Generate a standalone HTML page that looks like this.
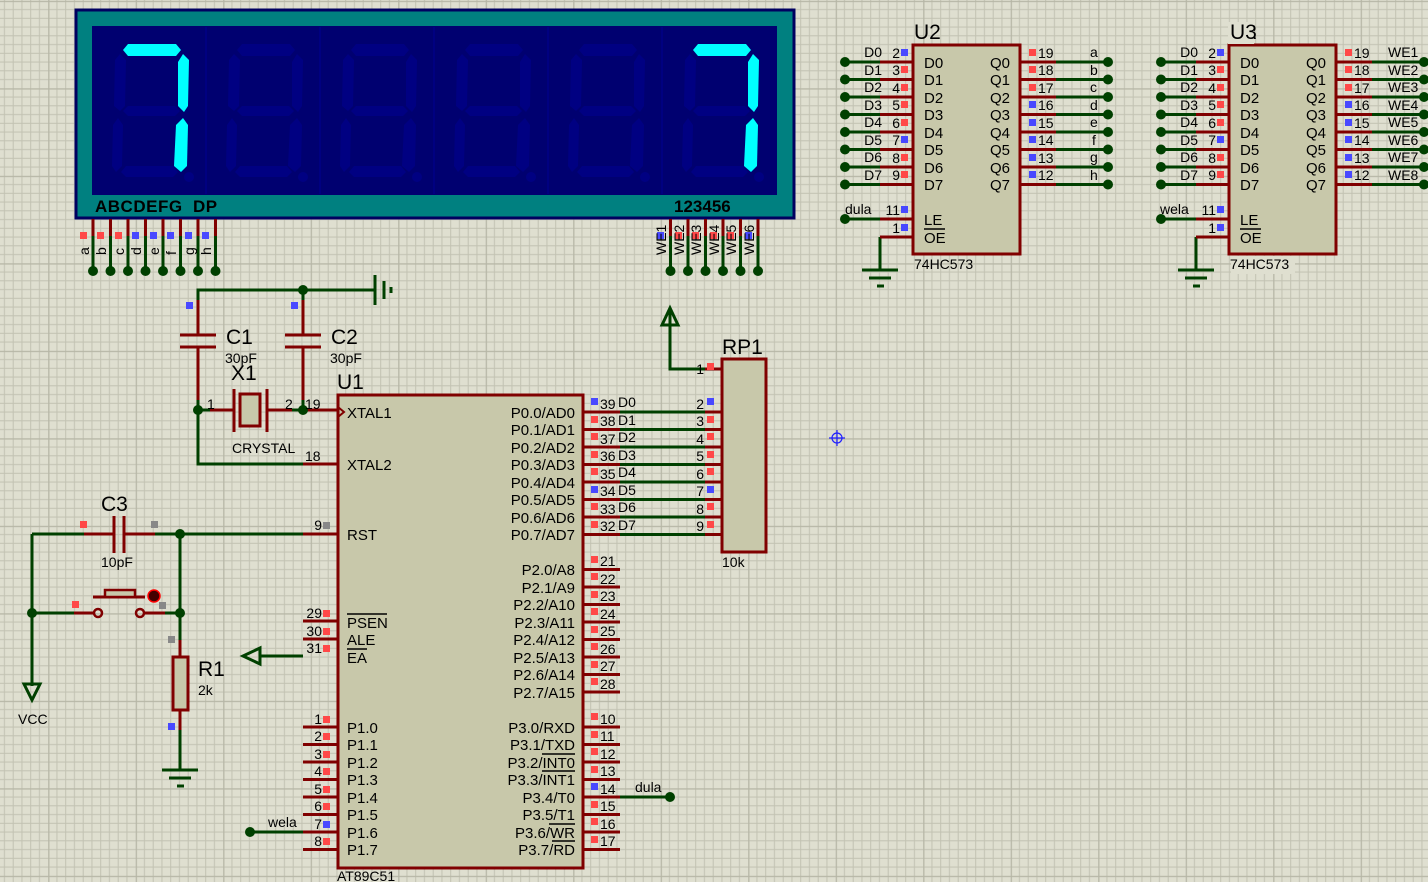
<!DOCTYPE html>
<html><head><meta charset="utf-8"><style>
html,body{margin:0;padding:0;width:1428px;height:882px;overflow:hidden;background:#dfdfd0}
svg{display:block}
text{font-family:"Liberation Sans",sans-serif;fill:#000}
.r{stroke:#800000;stroke-width:3;fill:none}
.g{stroke:#004000;stroke-width:3;fill:none}
.b{fill:#c8c8aa;stroke:#800000;stroke-width:3}
.dot{fill:#004000}
.sr{fill:#ff4848}.sb{fill:#4848ff}.sg{fill:#888}
.p{font-size:14px}
.l{font-size:15px}
.big{font-size:21px}
</style></head><body>
<svg width="1428" height="882" viewBox="0 0 1428 882" xmlns="http://www.w3.org/2000/svg">
<defs>
<pattern id="grid" x="48.2" y="0.8" width="87.5" height="87.5" patternUnits="userSpaceOnUse">
<path d="M8.75 0V87.5M17.5 0V87.5M26.25 0V87.5M35 0V87.5M43.75 0V87.5M52.5 0V87.5M61.25 0V87.5M70 0V87.5M78.75 0V87.5M0 8.75H87.5M0 17.5H87.5M0 26.25H87.5M0 35H87.5M0 43.75H87.5M0 52.5H87.5M0 61.25H87.5M0 70H87.5M0 78.75H87.5" stroke="#c2c2b2" stroke-width="1"/>
<path d="M0 0V87.5M0 0H87.5" stroke="#b6b6a6" stroke-width="2.5"/>
</pattern>
<g id="dig">
<polygon points="30,24 35,18 83,18 88,24 83,30 35,30"/>
<polygon points="90,28 96,34 95,80 91,86 85,80 85,36"/>
<polygon points="90,92 95,99 94,140 88,146 81,140 83,99"/>
<polygon points="28,146 33,140 80,140 85,146 80,151 33,151"/>
<polygon points="25,92 30,99 29,140 23,146 19,140 20,99"/>
<polygon points="27,28 33,34 32,80 27,85 21,80 22,34"/>
<polygon points="30,85 35,80 82,80 87,85 82,90 35,90"/>
<circle cx="96" cy="151" r="5"/>
</g>
<g id="seven">
<polygon points="30,24 35,18 83,18 88,24 83,30 35,30"/>
<polygon points="90,28 96,34 95,80 91,86 85,80 85,36"/>
<polygon points="90,92 95,99 94,140 88,146 81,140 83,99"/>
</g>
</defs>
<rect width="1428" height="882" fill="#dfdfd0"/>
<rect width="1428" height="882" fill="url(#grid)"/>

<!-- DISPLAY -->
<rect x="76" y="10" width="718" height="208" fill="#008080" stroke="#000060" stroke-width="3"/>
<rect x="92" y="26" width="685" height="169" fill="#000070"/>
<path d="M206 27V194M320 27V194M434 27V194M548 27V194M662 27V194" stroke="#000080" stroke-width="2"/>
<g fill="#000082">
<use href="#dig" x="93" y="26"/><use href="#dig" x="207" y="26"/><use href="#dig" x="321" y="26"/><use href="#dig" x="435" y="26"/><use href="#dig" x="549" y="26"/><use href="#dig" x="663" y="26"/>
</g>
<g fill="#00ffff"><use href="#seven" x="93" y="26"/><use href="#seven" x="663" y="26"/></g>
<text x="95" y="212" style="font-size:17px;font-weight:bold;letter-spacing:0.5px">ABCDEFG&#160;&#160;DP</text>
<text x="674" y="212" style="font-size:17px;font-weight:bold">123456</text>
<!-- display pins -->
<g class="r"><path d="M93 219V236M110.5 219V236M128 219V236M145.5 219V236M163 219V236M180.5 219V236M198 219V236M215.5 219V236"/>
<path d="M670.5 219V236M688 219V236M705.5 219V236M723 219V236M740.5 219V236M758 219V236"/></g>
<g class="g"><path d="M93 236V271M110.5 236V271M128 236V271M145.5 236V271M163 236V271M180.5 236V271M198 236V271M215.5 236V271"/>
<path d="M670.5 236V271M688 236V271M705.5 236V271M723 236V271M740.5 236V271M758 236V271"/></g>
<g class="dot"><circle cx="93" cy="271" r="5"/><circle cx="110.5" cy="271" r="5"/><circle cx="128" cy="271" r="5"/><circle cx="145.5" cy="271" r="5"/><circle cx="163" cy="271" r="5"/><circle cx="180.5" cy="271" r="5"/><circle cx="198" cy="271" r="5"/><circle cx="215.5" cy="271" r="5"/>
<circle cx="670.5" cy="271" r="5"/><circle cx="688" cy="271" r="5"/><circle cx="705.5" cy="271" r="5"/><circle cx="723" cy="271" r="5"/><circle cx="740.5" cy="271" r="5"/><circle cx="758" cy="271" r="5"/></g>
<rect class="sr" x="80" y="232" width="7" height="7"/><rect class="sr" x="97" y="232" width="7" height="7"/><rect class="sr" x="115" y="232" width="7" height="7"/><rect class="sb" x="132" y="232" width="7" height="7"/><rect class="sb" x="150" y="232" width="7" height="7"/><rect class="sb" x="167" y="232" width="7" height="7"/><rect class="sb" x="185" y="232" width="7" height="7"/><rect class="sb" x="202" y="232" width="7" height="7"/>
<rect class="sb" x="657" y="232" width="7" height="7"/><rect class="sr" x="675" y="232" width="7" height="7"/><rect class="sr" x="692" y="232" width="7" height="7"/><rect class="sr" x="710" y="232" width="7" height="7"/><rect class="sr" x="727" y="232" width="7" height="7"/><rect class="sb" x="745" y="232" width="7" height="7"/>
<g class="p">
<text transform="translate(89,255) rotate(-90)">a</text><text transform="translate(106,255) rotate(-90)">b</text><text transform="translate(124,255) rotate(-90)">c</text><text transform="translate(141,255) rotate(-90)">d</text><text transform="translate(159,255) rotate(-90)">e</text><text transform="translate(176,255) rotate(-90)">f</text><text transform="translate(194,255) rotate(-90)">g</text><text transform="translate(211,255) rotate(-90)">h</text>
<text transform="translate(666,255) rotate(-90)">WE1</text><text transform="translate(684,255) rotate(-90)">WE2</text><text transform="translate(701,255) rotate(-90)">WE3</text><text transform="translate(719,255) rotate(-90)">WE4</text><text transform="translate(736,255) rotate(-90)">WE5</text><text transform="translate(754,255) rotate(-90)">WE6</text>
</g>

<!-- C1 C2 X1 -->
<path class="g" d="M198 300V290H375M303 290V300M198 400V464H303M198 410H210M292 410H303M303 400V410"/>
<path class="g" d="M375 275V305M384 281V299" />
<path class="g" d="M391 287V293"/>
<circle class="dot" cx="303" cy="290" r="5"/>
<path class="r" d="M198 300V335M180 335H216M180 347H216M198 347V400M303 300V335M285 335H321M285 347H321M303 347V400"/>
<path class="r" d="M210 410H234M234 389V432M267 389V432M267 410H292"/>
<rect x="240" y="394" width="20" height="32" fill="#c8c8aa" stroke="#800000" stroke-width="3"/>
<path class="r" d="M303 410H338M303 464H338"/>
<circle class="dot" cx="198" cy="410" r="5"/><circle class="dot" cx="303" cy="410" r="5"/>
<rect class="sb" x="186" y="302" width="7" height="7"/><rect class="sb" x="291" y="302" width="7" height="7"/>
<text class="big" x="226" y="344">C1</text><text class="big" x="331" y="344">C2</text>
<text class="p" x="225" y="363">30pF</text><text class="p" x="330" y="363">30pF</text>
<text class="big" x="231" y="380">X1</text>
<text class="p" x="232" y="453">CRYSTAL</text>
<text class="p" x="207" y="409">1</text><text class="p" x="285" y="409">2</text><text class="p" x="305" y="409">19</text><text class="p" x="305" y="461">18</text>

<!-- C3, switch, R1 -->
<path class="g" d="M32 534H84M32 534V686M32 613H74M155 534H303M180 534V640M165 613H180M180 730V770"/>
<path class="r" d="M84 534H114M114 516V553M124 516V553M124 534H155M303 534H338M74 613H94M144 613H165M180 640V657M180 710V730"/>
<circle cx="98" cy="613" r="4" fill="none" stroke="#800000" stroke-width="2.5"/><circle cx="140" cy="613" r="4" fill="none" stroke="#800000" stroke-width="2.5"/>
<path class="r" d="M93 597H145"/><rect x="105" y="590" width="30" height="7" fill="#c8c8aa" stroke="#800000" stroke-width="2.5"/>
<circle cx="154" cy="596" r="6" fill="#400" stroke="#f00" stroke-width="1.5"/>
<rect x="173" y="657" width="15" height="53" fill="#c8c8aa" stroke="#800000" stroke-width="3"/>
<circle class="dot" cx="180" cy="534" r="5"/><circle class="dot" cx="32" cy="613" r="5"/><circle class="dot" cx="180" cy="613" r="5"/>
<path class="g" d="M24 684H40L32 700Z" fill="none"/>
<path class="g" d="M162 770H198M169 778H191M177 786H184"/>
<rect class="sr" x="80" y="521" width="7" height="7"/><rect class="sg" x="151" y="521" width="7" height="7"/>
<rect class="sr" x="72" y="601" width="7" height="7"/><rect class="sg" x="159" y="602" width="7" height="7"/>
<rect class="sg" x="168" y="636" width="7" height="7"/><rect class="sb" x="168" y="723" width="7" height="7"/>
<text class="big" x="101" y="511">C3</text><text class="p" x="101" y="567">10pF</text>
<text class="big" x="198" y="676">R1</text><text class="p" x="198" y="695">2k</text>
<text class="p" x="18" y="724">VCC</text>
<!-- EA arrow -->
<path class="g" d="M260 656H303M260 648L243 656L260 664Z" fill="none"/>

<!-- U1 -->
<rect class="b" x="338" y="395" width="245" height="473"/>
<text class="big" x="337" y="389">U1</text>
<text class="p" x="337" y="881">AT89C51</text>
<path d="M338 407L344 412L338 417" fill="none" stroke="#800000" stroke-width="2"/>
<g class="l">
<text x="347" y="418">XTAL1</text><text x="347" y="470">XTAL2</text><text x="347" y="540">RST</text>
<text x="347" y="628">PSEN</text><text x="347" y="645">ALE</text><text x="347" y="663">EA</text>
<text x="347" y="733">P1.0</text><text x="347" y="750">P1.1</text><text x="347" y="768">P1.2</text><text x="347" y="785">P1.3</text><text x="347" y="803">P1.4</text><text x="347" y="820">P1.5</text><text x="347" y="838">P1.6</text><text x="347" y="855">P1.7</text>
</g>
<path d="M347 614H387M347 649H367" stroke="#000" stroke-width="1.5"/>
<g class="l" text-anchor="end">
<text x="575" y="418">P0.0/AD0</text><text x="575" y="435">P0.1/AD1</text><text x="575" y="453">P0.2/AD2</text><text x="575" y="470">P0.3/AD3</text><text x="575" y="488">P0.4/AD4</text><text x="575" y="505">P0.5/AD5</text><text x="575" y="523">P0.6/AD6</text><text x="575" y="540">P0.7/AD7</text>
<text x="575" y="575">P2.0/A8</text><text x="575" y="593">P2.1/A9</text><text x="575" y="610">P2.2/A10</text><text x="575" y="628">P2.3/A11</text><text x="575" y="645">P2.4/A12</text><text x="575" y="663">P2.5/A13</text><text x="575" y="680">P2.6/A14</text><text x="575" y="698">P2.7/A15</text>
<text x="575" y="733">P3.0/RXD</text><text x="575" y="750">P3.1/TXD</text><text x="575" y="768">P3.2/INT0</text><text x="575" y="785">P3.3/INT1</text><text x="575" y="803">P3.4/T0</text><text x="575" y="820">P3.5/T1</text><text x="575" y="838">P3.6/WR</text><text x="575" y="855">P3.7/RD</text>
</g>
<path d="M542 754H575M542 771H575M549 824H575M552 841H575" stroke="#000" stroke-width="1.5"/>
<!-- U1 left pins -->
<path class="r" d="M303 621H338M303 639H338M303 727H338M303 744.5H338M303 762H338M303 779.5H338M303 797H338M303 814.5H338M303 832H338M303 849.5H338"/>
<g class="p" text-anchor="end">
<text x="322" y="530">9</text><text x="322" y="618">29</text><text x="322" y="636">30</text><text x="322" y="653">31</text>
<text x="322" y="724">1</text><text x="322" y="741">2</text><text x="322" y="759">3</text><text x="322" y="776">4</text><text x="322" y="794">5</text><text x="322" y="811">6</text><text x="322" y="829">7</text><text x="322" y="846">8</text>
</g>
<g class="sr"><rect x="323" y="610" width="7" height="7"/><rect x="323" y="628" width="7" height="7"/><rect x="323" y="645" width="7" height="7"/>
<rect x="323" y="716" width="7" height="7"/><rect x="323" y="733" width="7" height="7"/><rect x="323" y="751" width="7" height="7"/><rect x="323" y="768" width="7" height="7"/><rect x="323" y="786" width="7" height="7"/><rect x="323" y="803" width="7" height="7"/><rect x="323" y="838" width="7" height="7"/></g>
<rect class="sb" x="323" y="821" width="7" height="7"/><rect class="sg" x="323" y="522" width="7" height="7"/>
<path class="g" d="M250 832H303"/><circle class="dot" cx="250" cy="832" r="5"/><text class="p" x="268" y="827">wela</text>
<!-- U1 right pins -->
<path class="r" d="M583 412H620M583 429.5H620M583 447H620M583 464.5H620M583 482H620M583 499.5H620M583 517H620M583 534.5H620
M583 569.5H620M583 587H620M583 604.5H620M583 622H620M583 639.5H620M583 657H620M583 674.5H620M583 692H620
M583 727H620M583 744.5H620M583 762H620M583 779.5H620M583 797H620M583 814.5H620M583 832H620M583 849.5H620"/>
<path class="g" d="M620 412H705M620 429.5H705M620 447H705M620 464.5H705M620 482H705M620 499.5H705M620 517H705M620 534.5H705M620 797H670"/>
<path class="r" d="M705 412H722M705 429.5H722M705 447H722M705 464.5H722M705 482H722M705 499.5H722M705 517H722M705 534.5H722M705 369H722"/>
<circle class="dot" cx="670" cy="797" r="5"/><text class="p" x="635" y="792">dula</text>
<g class="p">
<text x="600" y="409">39</text><text x="600" y="426">38</text><text x="600" y="444">37</text><text x="600" y="461">36</text><text x="600" y="479">35</text><text x="600" y="496">34</text><text x="600" y="514">33</text><text x="600" y="531">32</text>
<text x="600" y="566">21</text><text x="600" y="584">22</text><text x="600" y="601">23</text><text x="600" y="619">24</text><text x="600" y="636">25</text><text x="600" y="654">26</text><text x="600" y="671">27</text><text x="600" y="689">28</text>
<text x="600" y="724">10</text><text x="600" y="741">11</text><text x="600" y="759">12</text><text x="600" y="776">13</text><text x="600" y="794">14</text><text x="600" y="811">15</text><text x="600" y="829">16</text><text x="600" y="846">17</text>
<text x="618" y="407">D0</text><text x="618" y="425">D1</text><text x="618" y="442">D2</text><text x="618" y="460">D3</text><text x="618" y="477">D4</text><text x="618" y="495">D5</text><text x="618" y="512">D6</text><text x="618" y="530">D7</text>
</g>
<g class="sr">
<rect x="591" y="416" width="7" height="7"/><rect x="591" y="433" width="7" height="7"/><rect x="591" y="451" width="7" height="7"/><rect x="591" y="468" width="7" height="7"/><rect x="591" y="503" width="7" height="7"/><rect x="591" y="521" width="7" height="7"/>
<rect x="591" y="556" width="7" height="7"/><rect x="591" y="573" width="7" height="7"/><rect x="591" y="591" width="7" height="7"/><rect x="591" y="608" width="7" height="7"/><rect x="591" y="626" width="7" height="7"/><rect x="591" y="643" width="7" height="7"/><rect x="591" y="661" width="7" height="7"/><rect x="591" y="678" width="7" height="7"/>
<rect x="591" y="713" width="7" height="7"/><rect x="591" y="731" width="7" height="7"/><rect x="591" y="748" width="7" height="7"/><rect x="591" y="766" width="7" height="7"/><rect x="591" y="801" width="7" height="7"/><rect x="591" y="818" width="7" height="7"/><rect x="591" y="836" width="7" height="7"/>
</g>
<rect class="sb" x="591" y="398" width="7" height="7"/><rect class="sb" x="591" y="486" width="7" height="7"/><rect class="sb" x="591" y="783" width="7" height="7"/>

<!-- RP1 -->
<rect class="b" x="722" y="359" width="44" height="193"/>
<text class="big" x="722" y="354">RP1</text><text class="p" x="722" y="567">10k</text>
<path class="g" d="M705 369H670V310M662 325L670 308L678 325Z" fill="none"/>
<g class="p" text-anchor="end">
<text x="704" y="374">1</text><text x="704" y="409">2</text><text x="704" y="426">3</text><text x="704" y="444">4</text><text x="704" y="461">5</text><text x="704" y="479">6</text><text x="704" y="496">7</text><text x="704" y="514">8</text><text x="704" y="531">9</text>
</g>
<g class="sr"><rect x="707" y="363" width="7" height="7"/><rect x="707" y="416" width="7" height="7"/><rect x="707" y="433" width="7" height="7"/><rect x="707" y="451" width="7" height="7"/><rect x="707" y="468" width="7" height="7"/><rect x="707" y="503" width="7" height="7"/><rect x="707" y="521" width="7" height="7"/></g>
<rect class="sb" x="707" y="398" width="7" height="7"/><rect class="sb" x="707" y="486" width="7" height="7"/>

<!-- crosshair -->
<g stroke="#2020ff" stroke-width="1.2" fill="none"><circle cx="837" cy="438" r="5"/><path d="M829 438H845M837 430V446"/></g>

<!-- U2 -->
<g id="u2">
<rect class="b" x="913" y="45" width="107" height="209"/>
<path class="g" d="M845 62H880M845 79.5H880M845 97H880M845 114.5H880M845 132H880M845 149.5H880M845 167H880M845 184.5H880M845 219H880M880 237V270M862 270H898M869 278H891M877 286H884"/>
<path class="r" d="M880 62H913M880 79.5H913M880 97H913M880 114.5H913M880 132H913M880 149.5H913M880 167H913M880 184.5H913M880 219H913M880 237H913"/>
<path class="r" d="M1020 62H1056M1020 79.5H1056M1020 97H1056M1020 114.5H1056M1020 132H1056M1020 149.5H1056M1020 167H1056M1020 184.5H1056"/>
<path class="g" d="M1056 62H1108M1056 79.5H1108M1056 97H1108M1056 114.5H1108M1056 132H1108M1056 149.5H1108M1056 167H1108M1056 184.5H1108"/>
<g class="dot"><circle cx="845" cy="62" r="5"/><circle cx="845" cy="79.5" r="5"/><circle cx="845" cy="97" r="5"/><circle cx="845" cy="114.5" r="5"/><circle cx="845" cy="132" r="5"/><circle cx="845" cy="149.5" r="5"/><circle cx="845" cy="167" r="5"/><circle cx="845" cy="184.5" r="5"/><circle cx="845" cy="219" r="5"/>
<circle cx="1108" cy="62" r="5"/><circle cx="1108" cy="79.5" r="5"/><circle cx="1108" cy="97" r="5"/><circle cx="1108" cy="114.5" r="5"/><circle cx="1108" cy="132" r="5"/><circle cx="1108" cy="149.5" r="5"/><circle cx="1108" cy="167" r="5"/><circle cx="1108" cy="184.5" r="5"/></g>
<g class="l"><text x="924" y="68">D0</text><text x="924" y="85">D1</text><text x="924" y="103">D2</text><text x="924" y="120">D3</text><text x="924" y="138">D4</text><text x="924" y="155">D5</text><text x="924" y="173">D6</text><text x="924" y="190">D7</text><text x="924" y="225">LE</text><text x="924" y="243">OE</text>
<text x="990" y="68">Q0</text><text x="990" y="85">Q1</text><text x="990" y="103">Q2</text><text x="990" y="120">Q3</text><text x="990" y="138">Q4</text><text x="990" y="155">Q5</text><text x="990" y="173">Q6</text><text x="990" y="190">Q7</text></g>
<path d="M924 229H945" stroke="#000" stroke-width="1.5"/>
<g class="p" text-anchor="end"><text x="882" y="57">D0</text><text x="882" y="75">D1</text><text x="882" y="92">D2</text><text x="882" y="110">D3</text><text x="882" y="127">D4</text><text x="882" y="145">D5</text><text x="882" y="162">D6</text><text x="882" y="180">D7</text>
<text x="900" y="58">2</text><text x="900" y="75">3</text><text x="900" y="93">4</text><text x="900" y="110">5</text><text x="900" y="128">6</text><text x="900" y="145">7</text><text x="900" y="163">8</text><text x="900" y="180">9</text><text x="900" y="215">11</text><text x="900" y="233">1</text></g>
<g class="p"><text x="1038" y="58">19</text><text x="1038" y="75">18</text><text x="1038" y="93">17</text><text x="1038" y="110">16</text><text x="1038" y="128">15</text><text x="1038" y="145">14</text><text x="1038" y="163">13</text><text x="1038" y="180">12</text></g>
<g class="sr"><rect x="901" y="66" width="7" height="7"/><rect x="901" y="84" width="7" height="7"/><rect x="901" y="101" width="7" height="7"/><rect x="901" y="119" width="7" height="7"/><rect x="901" y="154" width="7" height="7"/><rect x="901" y="171" width="7" height="7"/>
<rect x="1029" y="49" width="7" height="7"/><rect x="1029" y="66" width="7" height="7"/><rect x="1029" y="84" width="7" height="7"/></g>
<g class="sb"><rect x="901" y="49" width="7" height="7"/><rect x="901" y="136" width="7" height="7"/><rect x="901" y="206" width="7" height="7"/><rect x="901" y="224" width="7" height="7"/>
<rect x="1029" y="101" width="7" height="7"/><rect x="1029" y="119" width="7" height="7"/><rect x="1029" y="136" width="7" height="7"/><rect x="1029" y="154" width="7" height="7"/><rect x="1029" y="171" width="7" height="7"/></g>
<text class="big" x="914" y="39">U2</text><text class="p" x="914" y="269">74HC573</text>
</g>
<g class="p"><text x="845" y="214">dula</text>
<text x="1090" y="57">a</text><text x="1090" y="75">b</text><text x="1090" y="92">c</text><text x="1090" y="110">d</text><text x="1090" y="127">e</text><text x="1092" y="145">f</text><text x="1090" y="162">g</text><text x="1090" y="180">h</text></g>

<!-- U3 -->
<use href="#u2" x="316" y="0"/>
<rect x="1228" y="22" width="26" height="22" fill="#dfdfd0"/>
<rect x="1231" y="256" width="64" height="18" fill="#dfdfd0"/>
<text class="big" x="1230" y="39">U3</text><text class="p" x="1230" y="269">74HC573</text>
<g class="p"><text x="1160" y="214">wela</text>
<text x="1388" y="57">WE1</text><text x="1388" y="75">WE2</text><text x="1388" y="92">WE3</text><text x="1388" y="110">WE4</text><text x="1388" y="127">WE5</text><text x="1388" y="145">WE6</text><text x="1388" y="162">WE7</text><text x="1388" y="180">WE8</text></g>
</svg>
</body></html>
